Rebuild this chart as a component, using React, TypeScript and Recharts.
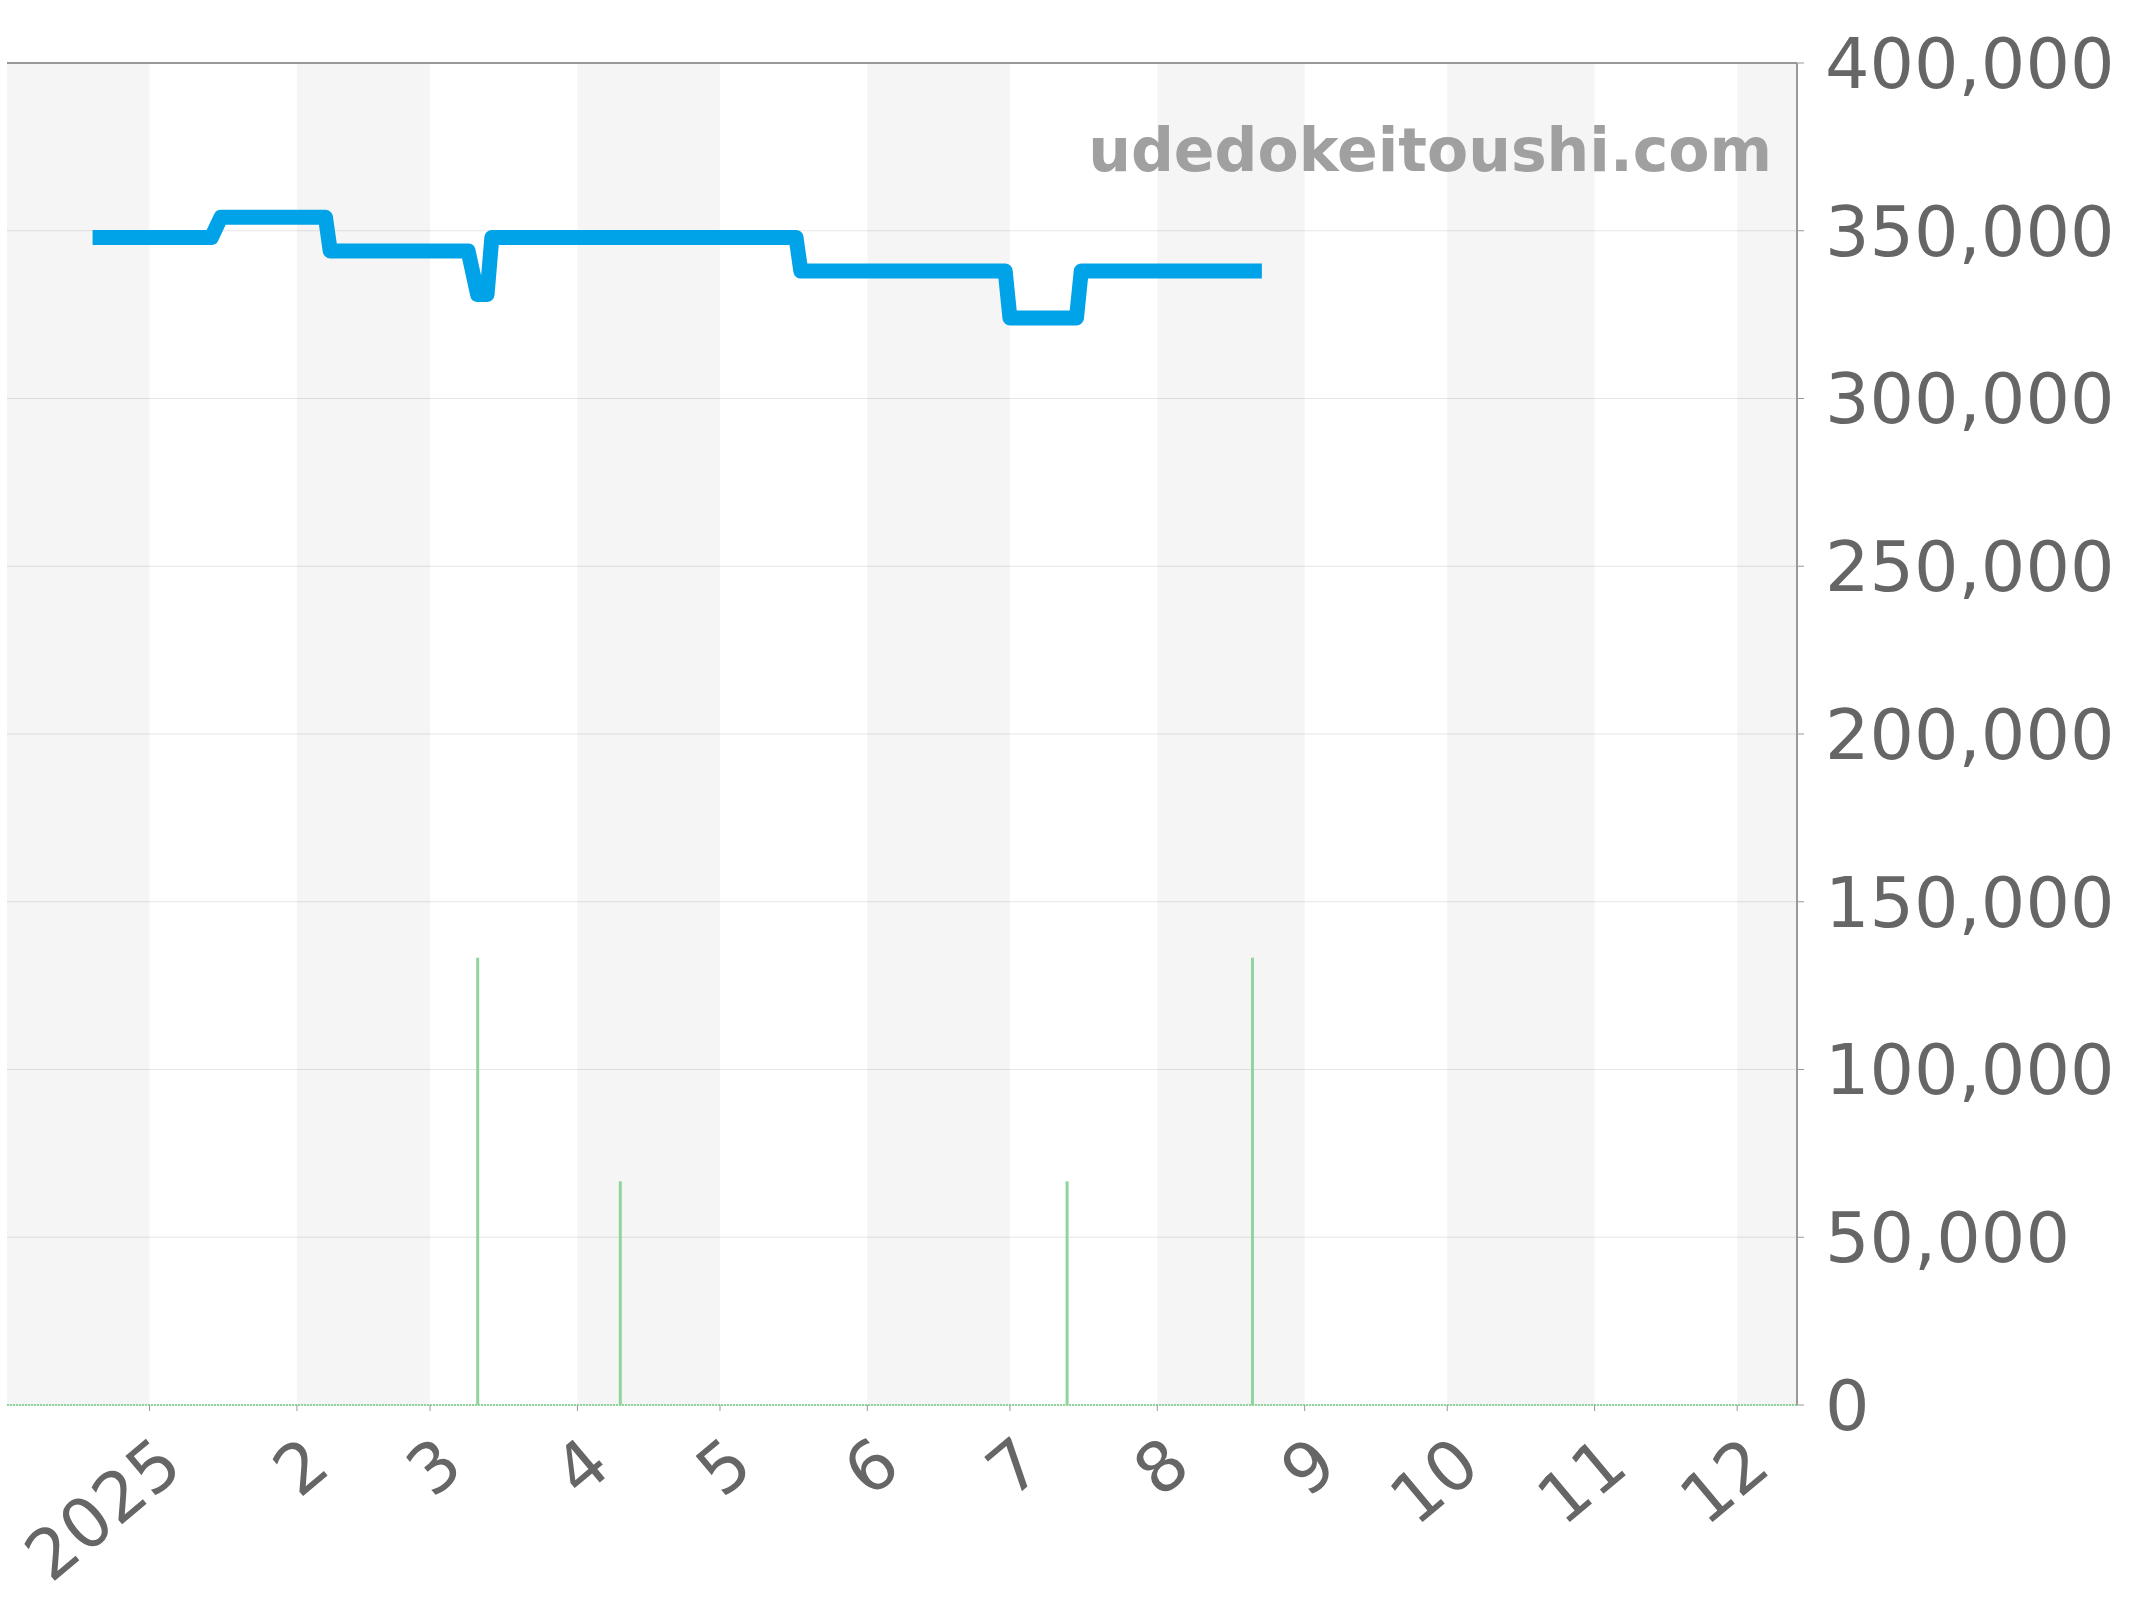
import React from 'react';
import {
    ComposedChart,
    Line,
    Bar,
    XAxis,
    YAxis,
    CartesianGrid,
    ReferenceArea,
    ReferenceLine,
} from 'recharts';

// price history (step-like, one point per change)
const priceDates = [
    '2024-12-20', '2025-01-14', '2025-01-16', '2025-02-07', '2025-02-08',
    '2025-03-09', '2025-03-11', '2025-03-13', '2025-03-14', '2025-05-17',
    '2025-05-18', '2025-06-30', '2025-07-01', '2025-07-15', '2025-07-16',
    '2025-08-23',
];
const priceValues = [
    348000, 348000, 354000, 354000, 344000,
    344000, 331000, 331000, 348000, 348000,
    338000, 338000, 324000, 324000, 338000,
    338000,
];

// number of listings
const listingDates = ['2025-03-11', '2025-04-10', '2025-07-13', '2025-08-21'];
const listingCounts = [2, 1, 1, 2];

const monthStarts = [
    '2025-01-01', '2025-02-01', '2025-03-01', '2025-04-01', '2025-05-01', '2025-06-01',
    '2025-07-01', '2025-08-01', '2025-09-01', '2025-10-01', '2025-11-01', '2025-12-01',
];
const monthLabels = ['2025', '2', '3', '4', '5', '6', '7', '8', '9', '10', '11', '12'];
const priceTicks = [0, 50000, 100000, 150000, 200000, 250000, 300000, 350000, 400000];

const domainStart = Date.parse('2024-12-02T00:00:00Z');
const domainEnd = Date.parse('2025-12-13T14:00:00Z');

const toTime = (d: string) => Date.parse(d + 'T00:00:00Z');

type Row = { t: number; price?: number; count?: number };
const rowMap = new Map<number, Row>();
priceDates.forEach((d, i) => {
    const t = toTime(d);
    rowMap.set(t, { ...(rowMap.get(t) || { t }), price: priceValues[i] });
});
listingDates.forEach((d, i) => {
    const t = toTime(d);
    rowMap.set(t, { ...(rowMap.get(t) || { t }), count: listingCounts[i] });
});
const data = Array.from(rowMap.values()).sort((a, b) => a.t - b.t);

const monthTimes = monthStarts.map(toTime);
// alternate shaded month bands, starting with the partial December
const bandEdges = [domainStart, ...monthTimes, domainEnd];
const bands: [number, number][] = [];
for (let i = 0; i < bandEdges.length - 1; i += 2) {
    bands.push([bandEdges[i], bandEdges[i + 1]]);
}

const FONT = "'DejaVu Sans', sans-serif";

const MonthTick = (props: any) => {
    const { x, y, payload } = props;
    const idx = monthTimes.indexOf(payload.value);
    return (
        <g transform={`translate(${x + 36},${y + 58})`}>
            <text
                transform="rotate(-40)"
                textAnchor="end"
                fontSize={69}
                fontFamily={FONT}
                fill="#666"
            >
                {monthLabels[idx]}
            </text>
        </g>
    );
};

const App = () => {
    return (
        <div style={{ position: 'absolute', left: 0, top: 0, width: 2144, height: 1600 }}>
            <ComposedChart
                width={2144}
                height={1600}
                data={data}
                margin={{ top: 63, right: 0, left: 7, bottom: 0 }}
            >
                {bands.map(([a, b], i) => (
                    <ReferenceArea
                        key={i}
                        x1={a}
                        x2={b}
                        yAxisId="price"
                        fill="#000"
                        fillOpacity={0.04}
                        stroke="none"
                    />
                ))}
                <CartesianGrid yAxisId="price" vertical={false} stroke="#e6e6e6" />
                <XAxis
                    dataKey="t"
                    type="number"
                    scale="time"
                    domain={[domainStart, domainEnd]}
                    ticks={monthTimes}
                    allowDataOverflow
                    height={195}
                    axisLine={false}
                    tickLine={{ stroke: '#999' }}
                    tickSize={6}
                    tickMargin={2}
                    tick={<MonthTick />}
                    interval={0}
                />
                <YAxis
                    yAxisId="price"
                    orientation="right"
                    domain={[0, 400000]}
                    ticks={priceTicks}
                    width={347}
                    axisLine={{ stroke: '#999', strokeWidth: 2 }}
                    tickLine={{ stroke: '#999' }}
                    tickSize={7}
                    tickMargin={21}
                    tick={{ fontSize: 70, fontFamily: FONT, fill: '#666', textAnchor: 'start' }}
                    tickFormatter={(v: number) => v.toLocaleString('en-US')}
                    interval={0}
                />
                <YAxis yAxisId="count" hide domain={[0, 6]} />
                <ReferenceLine yAxisId="price" y={400000} stroke="#999" strokeWidth={2} />
                <ReferenceLine
                    yAxisId="count"
                    y={0}
                    stroke="#8fd49d"
                    strokeWidth={2}
                    strokeDasharray="2 1"
                />
                <Bar
                    yAxisId="count"
                    dataKey="count"
                    barSize={3}
                    fill="#8fd49d"
                    isAnimationActive={false}
                />
                <Line
                    yAxisId="price"
                    dataKey="price"
                    type="linear"
                    stroke="#00a2e8"
                    strokeWidth={15}
                    strokeLinejoin="round"
                    dot={false}
                    activeDot={false}
                    connectNulls
                    isAnimationActive={false}
                />
            </ComposedChart>
            <div
                style={{
                    position: 'absolute',
                    right: 372,
                    top: 120,
                    fontFamily: FONT,
                    fontWeight: 'bold',
                    fontSize: 60,
                    lineHeight: '60px',
                    color: '#a0a0a0',
                    whiteSpace: 'nowrap',
                }}
            >
                udedokeitoushi.com
            </div>
        </div>
    );
};

export default App;
